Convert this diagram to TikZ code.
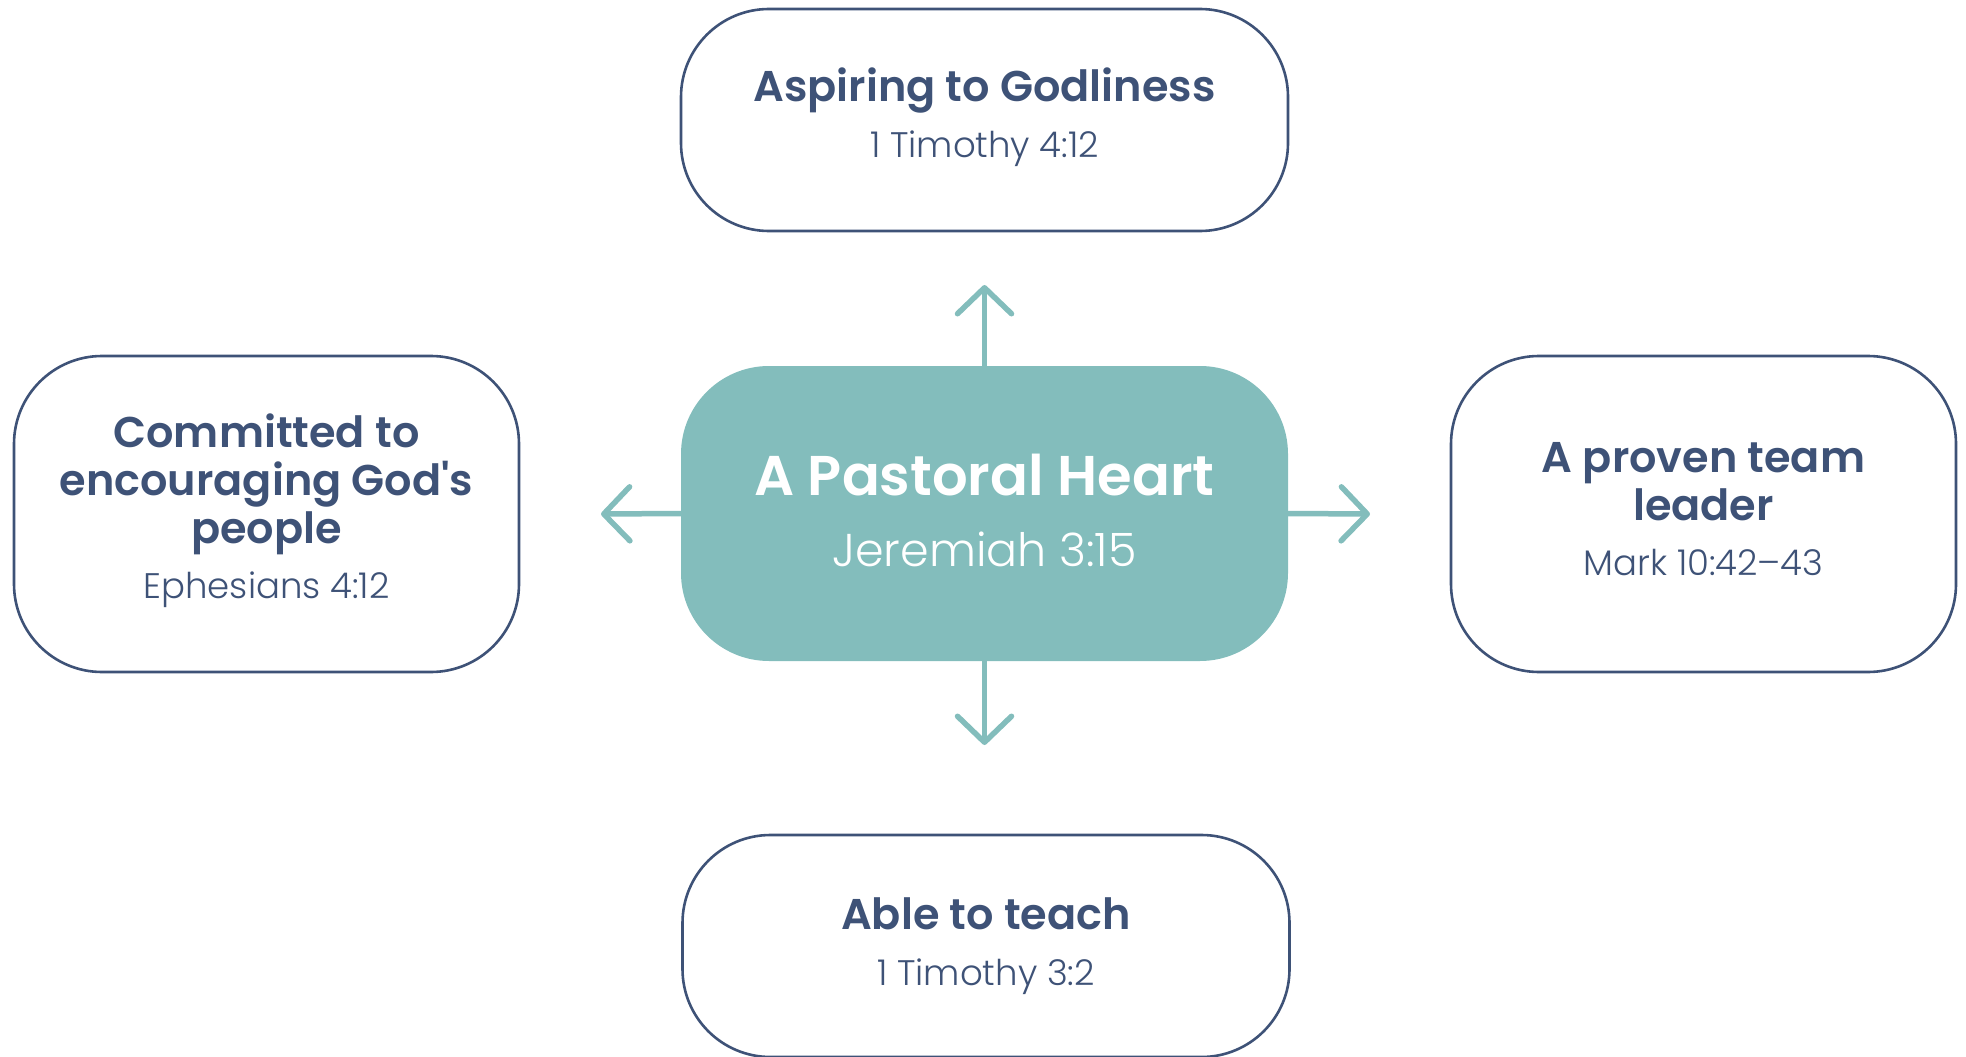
\documentclass[tikz,border=0pt]{standalone}
\usepackage{fontspec}
\setmainfont{Poppins}[BoldFont={Poppins SemiBold}]
\newfontfamily\subfont{Poppins Light}
\usetikzlibrary{arrows.meta}
\definecolor{navy}{HTML}{3E5277}
\definecolor{tealc}{HTML}{83BDBC}
\begin{document}
\begin{tikzpicture}[x=1pt,y=-1pt,
  box/.style={draw=navy, line width=2.6pt, rounded corners=88pt, fill=white, inner sep=0pt},
  hub/.style={fill=tealc, rounded corners=88pt, inner sep=0pt},
  ttl/.style={anchor=base, inner sep=0pt, text=navy, font=\fontsize{43}{48}\selectfont\bfseries},
  sub/.style={anchor=base, inner sep=0pt, text=navy, font=\fontsize{35.5}{40}\selectfont\subfont},
  arr/.style={draw=tealc, line width=5.5pt, -{Straight Barb[length=26pt,width=54pt,round]}}
]
\useasboundingbox (0,0) rectangle (1966,1057);
% boxes
\node[box, minimum width=607pt, minimum height=222pt] (top) at (984.5,120) {};
\node[box, minimum width=607pt, minimum height=222pt] (bot) at (986,946) {};
\node[box, minimum width=505pt, minimum height=316pt] (lft) at (266.5,514) {};
\node[box, minimum width=505pt, minimum height=316pt] (rgt) at (1703.5,514) {};
\node[hub, minimum width=607pt, minimum height=295pt] (ctr) at (984.5,513.5) {};
% texts
\node[ttl] (topA) at (984.5,102) {Aspiring to Godliness};
\node[sub] (topB) at (984.5,157) {1 Timothy 4:12};
\node[ttl, text=white, font=\fontsize{56}{60}\selectfont\bfseries] (ctrA) at (984.5,495) {A Pastoral Heart};
\node[sub, text=white, font=\fontsize{46}{50}\selectfont\subfont] (ctrB) at (984.5,566) {Jeremiah 3:15};
\node[ttl] (lftA) at (266.5,447) {Committed to};
\node[ttl] (lftB) at (266.5,495) {encouraging God{\addfontfeatures{Ligatures=TeXOff}'}s};
\node[ttl] (lftC) at (266.5,543) {people};
\node[sub] (lftD) at (266.5,598) {Ephesians 4:12};
\node[ttl] (rgtA) at (1703.5,472) {A proven team};
\node[ttl] (rgtB) at (1703.5,520) {leader};
\node[sub] (rgtC) at (1703.5,575) {Mark 10:42–43};
\node[ttl] (botA) at (986,929) {Able to teach};
\node[sub] (botB) at (986,985) {1 Timothy 3:2};
% arrow ends
\coordinate (tU) at (984.5,285);
\coordinate (tD) at (984.5,745);
\coordinate (tL) at (601,514);
\coordinate (tR) at (1370,514);
\draw[arr] (ctr.north) -- (tU);
\draw[arr] (ctr.south) -- (tD);
\draw[arr] (ctr.west) -- (tL);
\draw[arr] (ctr.east) -- (tR);
\end{tikzpicture}
\end{document}
